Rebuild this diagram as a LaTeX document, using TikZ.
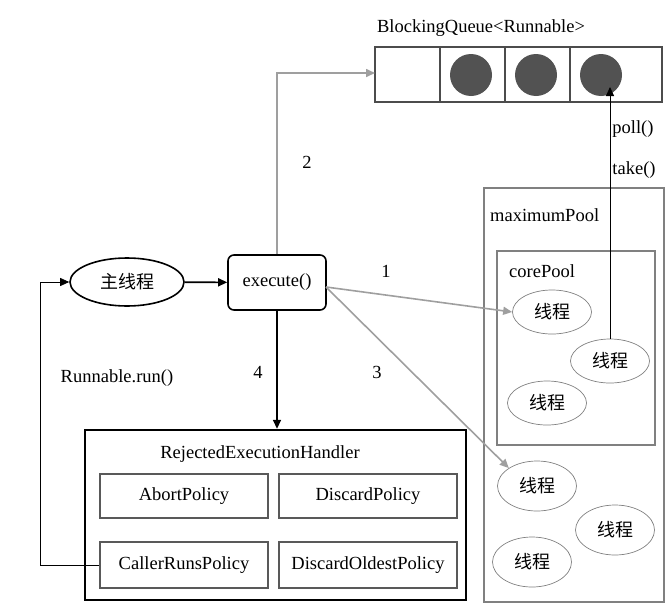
\documentclass[tikz,border=0pt]{standalone}
\usepackage{fontspec}
\setmainfont{Liberation Serif}
\newfontfamily\cjk{Noto Sans CJK SC}
\usetikzlibrary{arrows.meta,shapes.geometric}
\begin{document}
\begin{tikzpicture}[x=1pt,y=-1pt,
  every node/.style={font=\fontsize{18.5}{22}\selectfont},
  grayarrow/.style={draw=gray!75, line width=1.6pt, -{Triangle[length=9pt,width=8pt]}},
  blackarrow/.style={draw=black, line width=1.6pt, -{Triangle[length=9pt,width=8pt]}},
  thinarrow/.style={draw=black, line width=0.8pt, -{Triangle[length=9pt,width=8pt]}},
  thread/.style={ellipse, draw=gray, line width=0.7pt, minimum width=79pt, minimum height=44pt, inner sep=0pt, font=\cjk\fontsize{18}{22}\selectfont},
  policy/.style={draw=black!65, line width=2pt, minimum width=168pt, minimum height=44pt, inner sep=0pt},
  lbl/.style={inner sep=0pt}
]
\useasboundingbox (0,0) rectangle (668,605);
% queue
\node[lbl] (bqlabel) at (481,28) {BlockingQueue<Runnable>};
\node[draw=black!70, line width=2pt, minimum width=287pt, minimum height=55pt, inner sep=0pt] (queue) at (518.5,74.5) {};
\draw[black!70, line width=2pt] (440,47) -- (440,102) (505,47) -- (505,102) (570,47) -- (570,102);
\fill[black!68] (471,75) circle (21) (536,75) circle (21);
\node[circle, fill=black!68, minimum size=42pt, inner sep=0pt] (c3) at (601,75) {};
% pools
\node[draw=gray, line width=2pt, minimum width=180pt, minimum height=414pt, inner sep=0pt] (maxpool) at (574,395) {};
\node[lbl, anchor=west] (maxlabel) at (490,215) {maximumPool};
\node[draw=gray, line width=2pt, minimum width=158pt, minimum height=194pt, inner sep=0pt] (corepool) at (576,348) {};
\node[lbl, anchor=west] (corelabel) at (509,271) {corePool};
\node[thread] (t1) at (552,312) {线程};
\node[thread] (t2) at (610,361) {线程};
\node[thread] (t3) at (547,403) {线程};
\node[thread, minimum height=50pt] (t4) at (537,486) {线程};
\node[thread, minimum height=50pt] (t5) at (615,530) {线程};
\node[thread, minimum height=50pt] (t6) at (532,562) {线程};
% main
\node[ellipse, draw=black, line width=1.6pt, minimum width=114pt, minimum height=48pt, inner sep=0pt, font=\cjk\fontsize{18}{22}\selectfont] (main) at (127,282) {主线程};
\node[draw=black, rounded corners=6pt, line width=1.6pt, minimum width=98pt, minimum height=55pt, inner sep=0pt] (exec) at (277,282.5) {execute()};
% handler
\node[draw=black, line width=2.4pt, minimum width=381pt, minimum height=170pt, inner sep=0pt] (handler) at (275.5,515) {};
\node[lbl] (hlabel) at (260,454) {RejectedExecutionHandler};
\node[policy] (abort) at (184,496) {AbortPolicy};
\node[policy, minimum width=178pt] (discard) at (368,496) {DiscardPolicy};
\node[policy, minimum height=46pt] (caller) at (184,565) {CallerRunsPolicy};
\node[policy, minimum width=178pt, minimum height=46pt] (oldest) at (368,565) {DiscardOldestPolicy};
% arrows
\coordinate (qtip) at (375,73);
\draw[grayarrow] (exec.north) |- (qtip);
\node[lbl] at (307,162) {2};
\draw[blackarrow] (main) -- (exec);
\coordinate (eright) at (326,287);
\draw[grayarrow] (eright) -- (t1.west);
\node[lbl] at (386,271) {1};
\draw[grayarrow] (eright) -- (t4.north west);
\node[lbl] at (377,372) {3};
\draw[blackarrow] (exec.south) -- (handler.north -| exec.south);
\node[lbl] at (258,372) {4};
\coordinate (polltip) at (610,87);
\draw[thinarrow] (t2.north) -- (polltip);
\node[lbl] at (633,129) {poll()};
\node[lbl] at (634,170) {take()};
\coordinate (lcorner) at (40,565);
\draw[thinarrow] (caller.west) -- (lcorner) |- (main.west);
\node[lbl] at (117,378) {Runnable.run()};
\end{tikzpicture}
\end{document}
